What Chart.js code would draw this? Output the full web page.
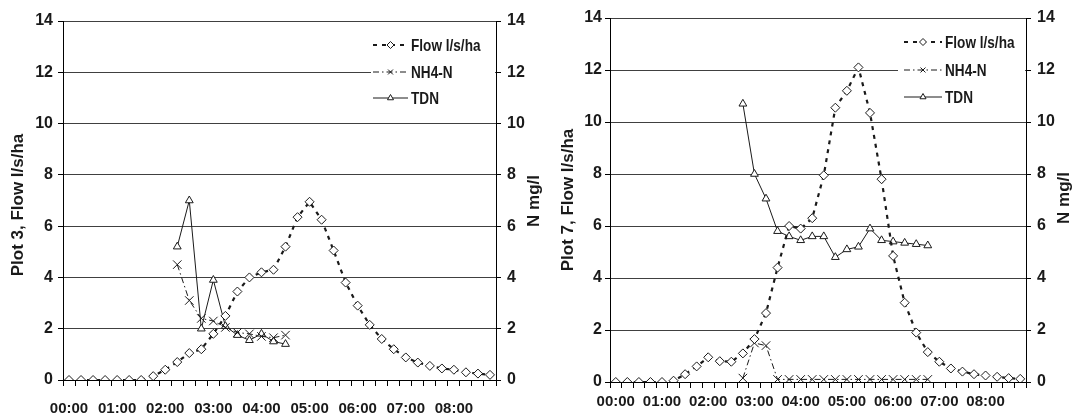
<!DOCTYPE html>
<html>
<head>
<meta charset="utf-8">
<title>Flow and nitrogen, plots 3 and 7</title>
<script src="https://cdn.jsdelivr.net/npm/chart.js@4.4.0/dist/chart.umd.min.js"></script>
<style>
  html, body { margin: 0; padding: 0; background: #fff; }
  #wrap { position: relative; width: 1075px; height: 419px; overflow: hidden; }
  canvas { position: absolute; top: 0; }
  #plot3 { left: 0; }
  #plot7 { left: 545px; }
</style>
</head>
<body>
<div id="wrap">
  <canvas id="plot3" width="545" height="419"></canvas>
  <canvas id="plot7" width="530" height="419"></canvas>
</div>
<script>
// 15 minute sampling times
const times = [
  '00:00', '00:15', '00:30', '00:45', '01:00', '01:15', '01:30', '01:45',
  '02:00', '02:15', '02:30', '02:45', '03:00', '03:15', '03:30', '03:45',
  '04:00', '04:15', '04:30', '04:45', '05:00', '05:15', '05:30', '05:45',
  '06:00', '06:15', '06:30', '06:45', '07:00', '07:15', '07:30', '07:45',
  '08:00', '08:15', '08:30', '08:45'
];

const seriesNames = ['Flow l/s/ha', 'NH4-N', 'TDN'];
const yTicks = [0, 2, 4, 6, 8, 10, 12, 14];

// Plot 3
const plot3Flow = [0, 0, 0, 0, 0, 0, 0, 0.15, 0.4, 0.7, 1.05, 1.2, 1.8, 2.5, 3.45, 4.0, 4.2, 4.3,
  5.2, 6.35, 6.95, 6.25, 5.05, 3.8, 2.9, 2.15, 1.6, 1.2, 0.88, 0.68, 0.55, 0.45, 0.4, 0.3, 0.25, 0.2];
const plot3NH4 = [null, null, null, null, null, null, null, null, null,
  4.5, 3.1, 2.4, 2.3, 2.05, 1.85, 1.8, 1.7, 1.65, 1.75,
  null, null, null, null, null, null, null, null, null, null, null, null, null, null, null, null, null];
const plot3TDN = [null, null, null, null, null, null, null, null, null,
  5.2, 7.0, 2.0, 3.9, 2.1, 1.75, 1.55, 1.8, 1.5, 1.4,
  null, null, null, null, null, null, null, null, null, null, null, null, null, null, null, null, null];

// Plot 7
const plot7Flow = [0, 0, 0, 0, 0, 0.05, 0.3, 0.6, 0.95, 0.8, 0.78, 1.1, 1.65, 2.65, 4.4, 6.0, 5.9, 6.3,
  7.95, 10.55, 11.2, 12.1, 10.35, 7.8, 4.85, 3.05, 1.9, 1.15, 0.78, 0.52, 0.4, 0.3, 0.25, 0.2, 0.15, 0.12];
const plot7NH4 = [null, null, null, null, null, null, null, null, null, null, null,
  0.15, 1.5, 1.4, 0.1, 0.1, 0.1, 0.1, 0.1, 0.1, 0.1, 0.1, 0.1, 0.1, 0.1, 0.1, 0.1, 0.1,
  null, null, null, null, null, null, null, null];
const plot7TDN = [null, null, null, null, null, null, null, null, null, null, null,
  10.7, 8.0, 7.05, 5.8, 5.6, 5.45, 5.6, 5.6, 4.8, 5.1, 5.2, 5.9, 5.45, 5.4, 5.35, 5.3, 5.25,
  null, null, null, null, null, null, null, null];

const ink = '#1a1a1a';
const tickFont = { family: '"Liberation Sans", Arial, sans-serif', weight: 'bold', size: 16 };
const timeFont = { family: '"Liberation Sans", Arial, sans-serif', weight: 'bold', size: 15 };

// line look for flow, NH4-N and TDN
const seriesStyles = [
  { pointStyle: 'rectRot', radius: 4.5, dash: [4, 5], width: 2.2, axis: 'y' },
  { pointStyle: 'crossRot', radius: 6, dash: [6, 3, 1.5, 3], width: 1, axis: 'y2' },
  { pointStyle: 'triangle', radius: 4.5, dash: [], width: 1, axis: 'y2' }
];

function drawSideTitle(ctx, text, x, y) {
  ctx.save();
  ctx.translate(x, y);
  ctx.rotate(-Math.PI / 2);
  ctx.font = 'bold 17px "Liberation Sans", Arial, sans-serif';
  ctx.fillStyle = ink;
  ctx.textAlign = 'center';
  ctx.textBaseline = 'middle';
  ctx.fillText(text, 0, 0);
  ctx.restore();
}

function drawLegend(chart, lg) {
  const ctx = chart.ctx;
  const area = chart.chartArea;
  ctx.save();
  ctx.fillStyle = '#fff';
  ctx.fillRect(lg.boxLeft, lg.rows[0] - 14, area.right - 1 - lg.boxLeft, lg.rows[2] - lg.rows[0] + 28);
  chart.data.datasets.forEach((ds, k) => {
    const y = lg.rows[k];
    ctx.strokeStyle = ink;
    ctx.lineWidth = ds.borderWidth;
    ctx.setLineDash(ds.borderDash);
    ctx.beginPath();
    ctx.moveTo(lg.lineFrom, y);
    ctx.lineTo(lg.lineTo, y);
    ctx.stroke();
    ctx.setLineDash([]);
    ctx.lineWidth = 1;
    ctx.fillStyle = '#fff';
    Chart.helpers.drawPoint(ctx, { pointStyle: ds.pointStyle, radius: 3.5, rotation: 0, borderWidth: 1 },
      (lg.lineFrom + lg.lineTo) / 2, y);

    ctx.save();
    ctx.translate(lg.textX, y + 1);
    ctx.scale(0.8, 1);
    ctx.fillStyle = ink;
    ctx.font = 'bold 17px "Liberation Sans", Arial, sans-serif';
    ctx.textBaseline = 'middle';
    ctx.fillText(ds.label, 0, 0);
    ctx.restore();
  });
  ctx.restore();
}

function makeChart(id, layout, flow, nh4, tdn) {
  const values = [flow, nh4, tdn];
  const datasets = seriesStyles.map((s, k) => ({
    label: seriesNames[k],
    data: values[k],
    yAxisID: s.axis,
    borderColor: ink,
    borderWidth: s.width,
    borderDash: s.dash,
    pointStyle: s.pointStyle,
    pointRadius: s.radius,
    pointBorderWidth: 1,
    pointBorderColor: ink,
    pointBackgroundColor: '#fff',
    tension: 0
  }));

  const yScale = (position, width, pad, onArea) => ({
    position: position,
    min: 0,
    max: 14,
    afterBuildTicks: scale => { scale.ticks = yTicks.map(v => ({ value: v })); },
    ticks: { padding: pad, color: ink, font: tickFont },
    grid: { drawOnChartArea: onArea, color: '#404040', lineWidth: 1, tickLength: 5, tickColor: '#000' },
    border: { color: '#000', width: 1 },
    afterFit: scale => { scale.width = width; }
  });

  return new Chart(document.getElementById(id), {
    type: 'line',
    data: { labels: times, datasets: datasets },
    options: {
      responsive: false,
      animation: false,
      devicePixelRatio: 1,
      layout: { padding: { top: layout.top, left: 0, right: 0, bottom: 0 } },
      plugins: { legend: { display: false }, tooltip: { enabled: false } },
      scales: {
        x: {
          offset: true,
          grid: { drawOnChartArea: false, offset: true, tickLength: 6, color: '#000' },
          border: { color: '#000', width: 1 },
          ticks: {
            autoSkip: false,
            maxRotation: 0,
            padding: layout.xPad,
            color: ink,
            font: timeFont,
            callback: (v, i) => (i % 4 === 0 ? times[i] : '')
          },
          afterFit: scale => { scale.height = layout.xHeight; }
        },
        y: yScale('left', layout.leftW, layout.leftPad, true),
        y2: yScale('right', layout.rightW, layout.rightPad, false)
      }
    },
    plugins: [{
      id: 'panelDecor',
      afterDraw(chart) {
        drawLegend(chart, layout.legend);
        drawSideTitle(chart.ctx, layout.leftTitle.text, layout.leftTitle.x, layout.leftTitle.y);
        drawSideTitle(chart.ctx, 'N mg/l', layout.rightTitle.x, layout.rightTitle.y);
      }
    }]
  });
}

makeChart('plot3', {
  top: 21, leftW: 63, rightW: 49, xHeight: 39, xPad: 14, leftPad: 5, rightPad: 6,
  leftTitle: { text: 'Plot 3, Flow l/s/ha', x: 18, y: 205 },
  rightTitle: { x: 534, y: 201 },
  legend: { boxLeft: 371, lineFrom: 373, lineTo: 408, textX: 411, rows: [45, 72, 98] }
}, plot3Flow, plot3NH4, plot3TDN);

makeChart('plot7', {
  top: 18, leftW: 65, rightW: 49, xHeight: 37, xPad: 5, leftPad: 3, rightPad: 6,
  leftTitle: { text: 'Plot 7, Flow l/s/ha', x: 23, y: 200 },
  rightTitle: { x: 519, y: 198 },
  legend: { boxLeft: 353, lineFrom: 359, lineTo: 397, textX: 400, rows: [42, 70, 97] }
}, plot7Flow, plot7NH4, plot7TDN);
</script>
</body>
</html>
